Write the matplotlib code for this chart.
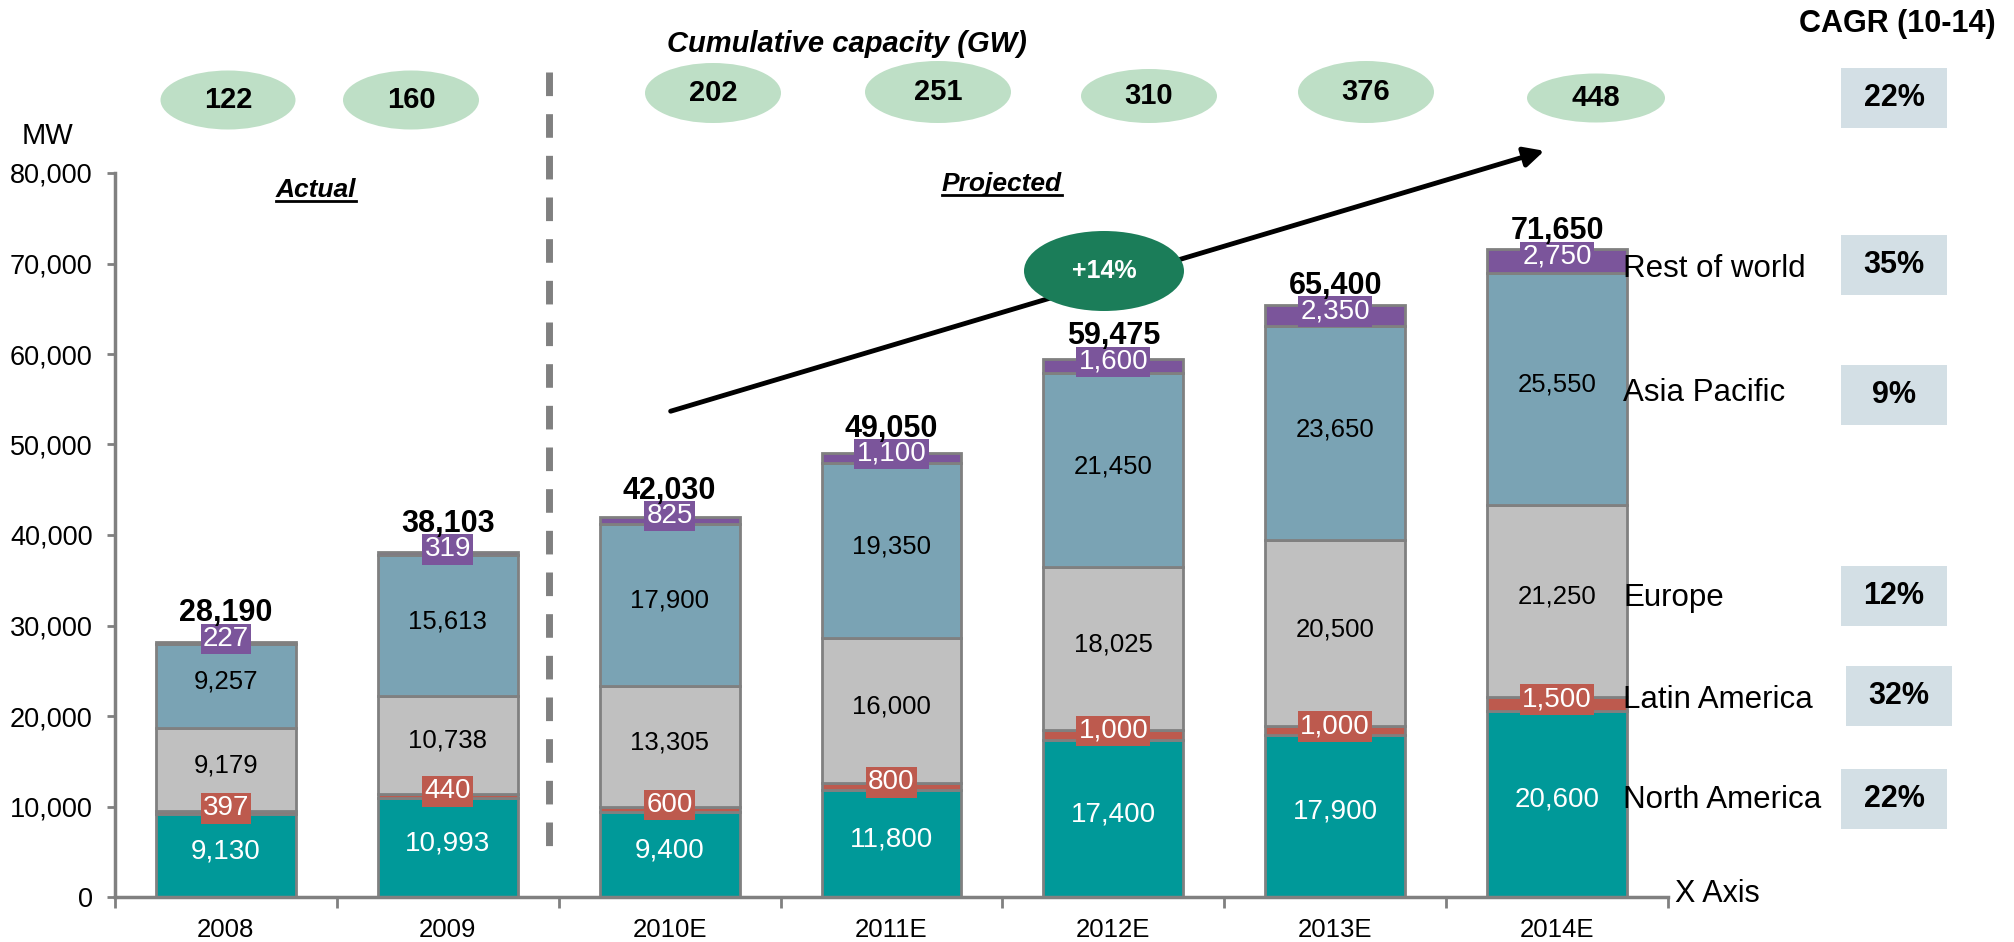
import matplotlib
matplotlib.use("Agg")
import numpy as np
import matplotlib.pyplot as plt
from matplotlib.patches import Ellipse, Rectangle, FancyArrowPatch
from matplotlib.lines import Line2D
from matplotlib.ticker import FuncFormatter

plt.rcParams["font.family"] = ["Liberation Sans", "DejaVu Sans"]

# --- data ---
years = ["2008", "2009", "2010E", "2011E", "2012E", "2013E", "2014E"]
north_america = [9130, 10993, 9400, 11800, 17400, 17900, 20600]
latin_america = [397, 440, 600, 800, 1000, 1000, 1500]
europe = [9179, 10738, 13305, 16000, 18025, 20500, 21250]
asia_pacific = [9257, 15613, 17900, 19350, 21450, 23650, 25550]
rest_of_world = [227, 319, 825, 1100, 1600, 2350, 2750]
totals = [28190, 38103, 42030, 49050, 59475, 65400, 71650]
cumulative_gw = [122, 160, 202, 251, 310, 376, 448]
region_names = ["North America", "Latin America", "Europe", "Asia Pacific", "Rest of world"]
region_cagr = ["22%", "32%", "12%", "9%", "35%"]
total_cagr = "22%"
growth = "+14%"

W, H = 2015, 942
GREY = "#808080"


def fx(px):
    return px / W


def fy(py):
    return 1 - py / H


fig = plt.figure(figsize=(W / 100, H / 100), dpi=100)
ax = fig.add_axes([fx(115), fy(897), fx(1668) - fx(115), fy(173) - fy(897)])
ax.patch.set_alpha(0)

x = np.arange(len(years))
# (values, colour, text colour, font size, label box)
series = [
    (north_america, "#009999", "white", 20, False),
    (latin_america, "#BD5A4E", "white", 20, True),
    (europe, "#C0C0C0", "black", 18.5, False),
    (asia_pacific, "#7AA3B4", "black", 18.5, False),
    (rest_of_world, "#7B559B", "white", 20, True),
]

bottom = np.zeros(len(years))
row_centers = []
for vals, col, tcol, fs, boxed in series:
    vals = np.array(vals)
    ax.bar(x, vals, bottom=bottom, width=0.63, color=col, edgecolor=GREY, linewidth=2, zorder=2)
    centers = bottom + vals / 2
    for i, v in enumerate(vals):
        kw = {}
        if boxed:
            kw["bbox"] = dict(boxstyle="square,pad=0.08", fc=col, ec="none")
        ax.annotate(f"{v:,}", (x[i], centers[i]), xytext=(0, 3), textcoords="offset points",
                    ha="center", va="center", color=tcol, fontsize=fs, zorder=5, **kw)
    row_centers.append(centers)
    bottom = bottom + vals

for i, t in enumerate(totals):
    ax.annotate(f"{t:,}", (x[i], row_centers[-1][i]), xytext=(0, 15.5), textcoords="offset points",
                ha="center", va="baseline", fontsize=22, fontweight="bold", zorder=6)

# --- axes format ---
ax.set_xlim(-0.5, len(years) - 0.5)
ax.set_ylim(0, 80000)
ax.set_yticks(np.arange(0, 80001, 10000))
ax.yaxis.set_major_formatter(FuncFormatter(lambda v, p: f"{int(v):,}"))
ax.set_xticks(np.arange(-0.5, len(years), 1))
ax.set_xticklabels([])
ax.set_xticks(x, minor=True)
ax.set_xticklabels(years, minor=True)
ax.tick_params(axis="x", which="major", length=8, width=2, color=GREY, direction="out")
ax.tick_params(axis="x", which="minor", length=0, labelsize=18.5, pad=15)
ax.tick_params(axis="y", length=6, width=2, color=GREY, labelsize=19.5, pad=10)
for s in ["top", "right"]:
    ax.spines[s].set_visible(False)
for s in ["left", "bottom"]:
    ax.spines[s].set_color(GREY)
    ax.spines[s].set_linewidth(2.5)

fig.text(fx(22), fy(136), "MW", fontsize=21, va="center", ha="left")
fig.text(fx(1675), fy(902), "X Axis", fontsize=22, va="baseline", ha="left")

# --- separator between actual and projected ---
fig.add_artist(Line2D([fx(549), fx(549)], [fy(72), fy(847)], color=GREY, lw=5,
                      dashes=(3.4, 2.6), zorder=1))

# --- cumulative capacity ellipses ---
fig.text(fx(847), fy(44), "Cumulative capacity (GW)", fontsize=21, fontweight="bold",
         fontstyle="italic", ha="center", va="center")
ell_pos = [(228, 100), (411, 100), (713, 93), (938, 92), (1149, 96), (1366, 92), (1596, 98)]
ell_size = [(135, 59), (136, 59), (136, 60), (146, 62), (136, 54), (136, 62), (138, 49)]
for (cx, cy), (ew, eh), gw in zip(ell_pos, ell_size, cumulative_gw):
    fig.add_artist(Ellipse((fx(cx), fy(cy)), ew / W, eh / H, transform=fig.transFigure,
                           fc="#BEDFC6", ec="none", zorder=2))
    fig.text(fx(cx), fy(cy), str(gw), fontsize=21, fontweight="bold", ha="center", va="center", zorder=3)

# --- growth arrow ---
fig.add_artist(FancyArrowPatch((fx(668), fy(412)), (fx(1547), fy(150)), transform=fig.transFigure,
                               arrowstyle="-|>", mutation_scale=30, lw=3.5, color="black", zorder=2))
fig.add_artist(Ellipse((fx(1104), fy(271)), 160 / W, 80 / H, transform=fig.transFigure,
                       fc="#1B7D59", ec="none", zorder=3))
fig.text(fx(1104), fy(271), growth, fontsize=18, fontweight="bold", color="white",
         ha="center", va="center", zorder=4)

# --- Actual / Projected ---
t_act = fig.text(fx(316), fy(197), "Actual", fontsize=19, fontweight="bold", fontstyle="italic",
                 ha="center", va="baseline")
t_proj = fig.text(fx(1002), fy(191), "Projected", fontsize=19, fontweight="bold", fontstyle="italic",
                  ha="center", va="baseline")

# --- region labels and CAGR boxes ---
label_y = [800, 700, 598, 393, 269]
box_y = [799, 696, 596, 395, 265]
box_x = [1894, 1899, 1894, 1894, 1894]
for name, ly in zip(region_names, label_y):
    fig.text(fx(1623), fy(ly), name, fontsize=22.5, ha="left", va="center")

fig.text(fx(1897), fy(24), "CAGR (10-14)", fontsize=22, fontweight="bold", ha="center", va="center")
for val, bx, by in zip([total_cagr] + region_cagr, [1894] + box_x, [98] + box_y):
    fig.add_artist(Rectangle((fx(bx - 53), fy(by + 30)), 106 / W, 60 / H, transform=fig.transFigure,
                             fc="#D3DFE5", ec="none", zorder=1))
    fig.text(fx(bx), fy(by), val, fontsize=22, fontweight="bold", ha="center", va="center", zorder=3)

# underline the period headers
fig.canvas.draw()
renderer = fig.canvas.get_renderer()
for t, uy in [(t_act, 201), (t_proj, 195)]:
    bb = t.get_window_extent(renderer)
    fig.add_artist(Line2D([bb.x0 / W, bb.x1 / W], [fy(uy), fy(uy)], color="black", lw=2))

fig.savefig("out.png", dpi=100)
